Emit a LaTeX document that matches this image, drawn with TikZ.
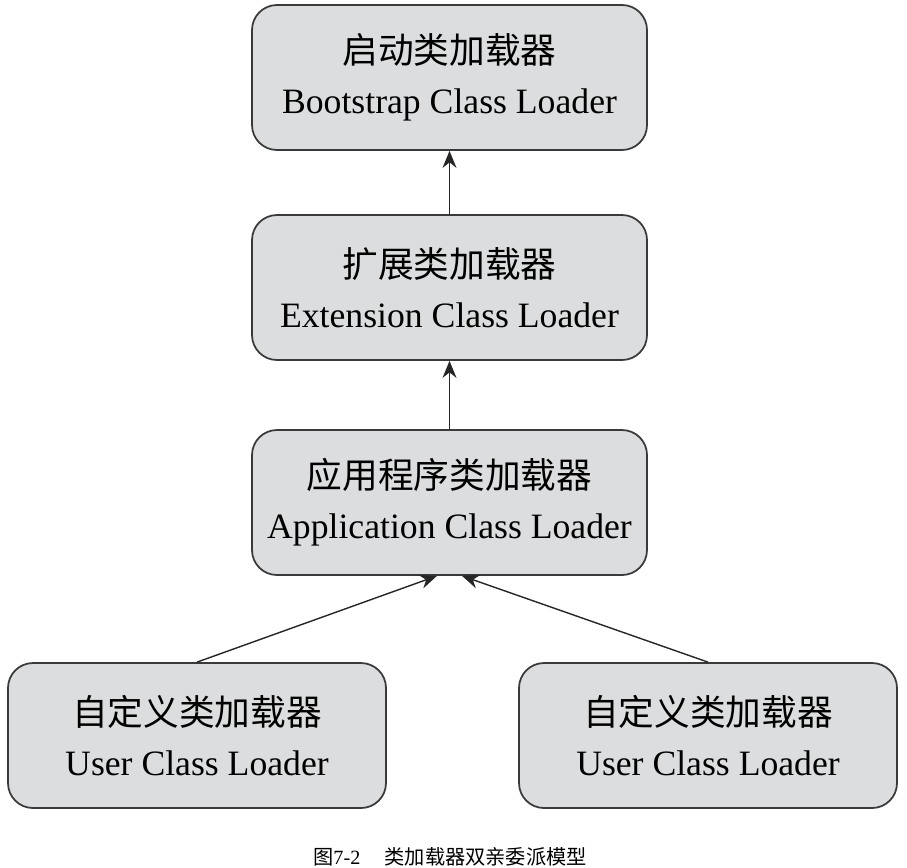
\documentclass[tikz,border=0pt]{standalone}
\usepackage{fontspec}
\setmainfont{Liberation Serif}
\newfontfamily\cjk{Noto Sans CJK SC}
\usetikzlibrary{arrows.meta, positioning}

\definecolor{ldfill}{HTML}{DCDDDE}
\definecolor{ldedge}{HTML}{3A3A3A}

\tikzset{
  loaderbox/.style={draw=ldedge, fill=ldfill, line width=1pt, rounded corners=0.5cm,
    minimum width=7.9cm, minimum height=2.9cm, align=center,
    font=\fontsize{20.3}{28.5}\selectfont},
  userbox/.style={loaderbox, minimum width=7.56cm},
  delegate/.style={-{Stealth[length=0.34cm, width=0.28cm]}, line width=0.8pt, black!85}
}

\begin{document}
\begin{tikzpicture}[x=1cm, y=1cm]

  % ---------------------------------------------------------------- frame
  \useasboundingbox (0,0) rectangle (18.14,-17.34);

  % ------------------------------------------------------ the loader chain
  \node[loaderbox] (boot) at (8.99,-1.55)  {{\cjk 启动类加载器}\\Bootstrap Class Loader};
  \node[loaderbox] (ext)  at (8.99,-5.75)  {{\cjk 扩展类加载器}\\Extension Class Loader};
  \node[loaderbox] (app)  at (8.99,-10.05) {{\cjk 应用程序类加载器}\\Application Class Loader};

  % ------------------------------------------------------- user loaders
  \node[userbox] (userA) at (3.94,-14.71)  {{\cjk 自定义类加载器}\\User Class Loader};
  \node[userbox] (userB) at (14.16,-14.71) {{\cjk 自定义类加载器}\\User Class Loader};

  % ------------------------------------------------- parent delegation
  \draw[delegate] (ext) -- (boot);
  \draw[delegate] (app) -- (ext);
  \draw[delegate] (userA.north) -- ([xshift=-0.25cm]app.south);
  \draw[delegate] (userB.north) -- ([xshift=0.25cm]app.south);

  % -------------------------------------------------------------- caption
  \node[font=\fontsize{11.5}{14}\selectfont] (cap) at (9.0,-17.14)
    {{\cjk 图}7-2\hspace{1.2em}{\cjk 类加载器双亲委派模型}};

\end{tikzpicture}
\end{document}
